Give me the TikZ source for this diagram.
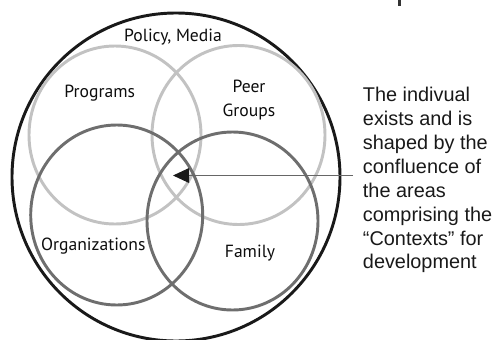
\documentclass[tikz,border=0pt]{standalone}
\usepackage{fontspec}
\setmainfont{Liberation Sans}
\newfontfamily\labelfont{PT Sans}
\usetikzlibrary{arrows.meta}

\begin{document}
\begin{tikzpicture}[x=0.75pt,y=-0.75pt,
    ring/.style={line width=2.2pt},
    outerring/.style={ring,draw=black!90},
    lightring/.style={ring,draw=black!24},
    darkring/.style={ring,draw=black!57},
    area/.style={font=\labelfont\fontsize{13.2}{18.5}\selectfont,text=black!95,align=center,inner sep=0pt},
    note/.style={font=\fontsize{14.9}{17.9}\selectfont,text=black!90,align=left,inner sep=0pt},
    pointer/.style={draw=black!60,line width=0.8pt,-{Triangle[length=12pt,width=11pt,color=black!90]}}]
        \useasboundingbox (0,0) rectangle (496,339);

        % cut-off stroke at the top
        \draw[black!80,line width=1.6pt] (399.5,0) -- (399.5,6);

        % the contexts
        \draw[outerring] (176,177) circle [radius=164];
        \draw[lightring] (115,135) ellipse [x radius=86, y radius=89];
        \draw[lightring] (238.5,135) ellipse [x radius=86.5, y radius=89.5];
        \draw[darkring] (116.7,215) ellipse [x radius=86, y radius=90];
        \draw[darkring] (232.5,221) ellipse [x radius=85.5, y radius=89];

        \node[area] (policy) at (173,37) {Policy, Media};
        \node[area] (programs) at (99.7,93) {Programs};
        \node[area] (peers) at (249,100) {Peer\\Groups};
        \node[area] (orgs) at (93.3,246) {Organizations};
        \node[area] (family) at (250,253) {Family};

        % the individual
        \node[note, anchor=west] (ctx) at (362.7,180.3) {The indivual\\exists and is\\shaped by the\\confluence of\\the areas\\comprising the\\“Contexts” for\\development};
        \coordinate (core) at (173,175.5);
        \coordinate (tail) at (353,175.5);
        \draw[pointer] (tail) -- (core);

    \end{tikzpicture}
\end{document}
